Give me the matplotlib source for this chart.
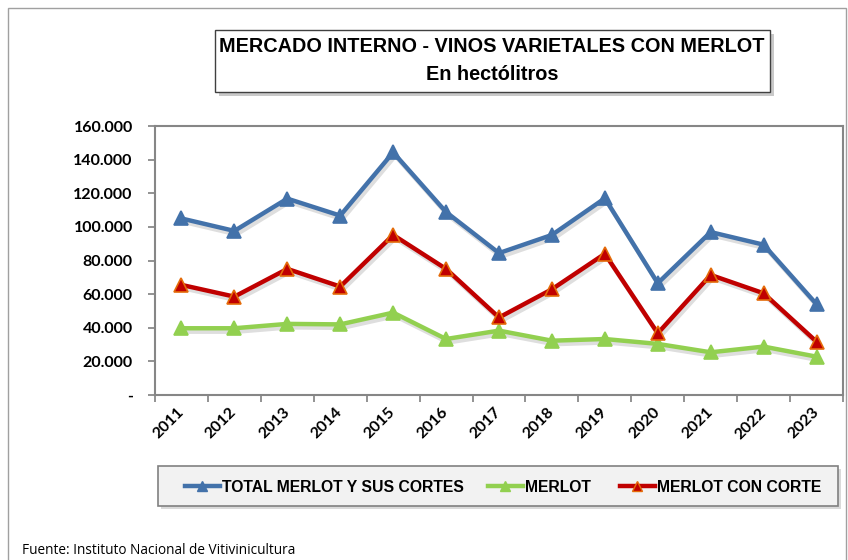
import numpy as np
import matplotlib
matplotlib.use('Agg')
import matplotlib.pyplot as plt
import matplotlib.patheffects as pe
from matplotlib.patches import Rectangle
from matplotlib.lines import Line2D

# datos (hectolitros)
years = ['2011', '2012', '2013', '2014', '2015', '2016', '2017',
         '2018', '2019', '2020', '2021', '2022', '2023']
total = [105000, 97600, 116800, 106700, 144300, 108800, 84400,
         95200, 117000, 66500, 96900, 89400, 54000]
merlot = [39700, 39700, 42300, 42000, 49000, 33300, 38300,
          32300, 33300, 30400, 25400, 28800, 22800]
con_corte = [65500, 58500, 75000, 64500, 95200, 75000, 46100,
             62900, 84000, 36700, 71400, 60500, 31700]
yticks = [0, 20000, 40000, 60000, 80000, 100000, 120000, 140000, 160000]

narrow = ['Liberation Sans Narrow', 'Liberation Sans', 'DejaVu Sans']
calib = ['Lato', 'DejaVu Sans']
plt.rcParams['font.family'] = narrow

BLUE = '#4372AA'
GREEN = '#92D050'
RED = '#C00000'

fig = plt.figure(figsize=(8.48, 5.6), dpi=100)

# marco exterior
fig.patches.append(Rectangle((8/848, -0.05), 838/848, 1 - 8/560 + 0.05,
                             transform=fig.transFigure, fill=False,
                             edgecolor='#a0a0a0', lw=1))

ax = fig.add_axes([155/848, 1 - 395/560, 688/848, 269/560])
x = np.arange(len(years))
shadow = [pe.SimpleLineShadow(offset=(1.5, -2.5), alpha=0.13, shadow_color='black'),
          pe.Normal()]

series = [(total, BLUE, BLUE, 'TOTAL MERLOT Y SUS CORTES'),
          (merlot, GREEN, GREEN, 'MERLOT'),
          (con_corte, RED, '#E46C0A', 'MERLOT CON CORTE')]
handles = []
for i, (vals, col, edge, name) in enumerate(series):
    z = 3 + i
    ax.plot(x, vals, color=col, lw=3.2, path_effects=shadow, zorder=z)
    ax.plot(x, vals, ls='none', marker='^', ms=10, mfc=col, mec=edge, mew=1.2, zorder=z)
    handles.append(Line2D([], [], color=col, lw=3.2, marker='^', ms=7.5,
                          mfc=col, mec=edge, mew=1))

ax.set_xlim(-0.5, len(years) - 0.5)
ax.set_ylim(0, 160000)
ax.set_yticks(yticks)
ax.set_yticklabels(['-' if v == 0 else f'{v:,}'.replace(',', '.') for v in yticks],
                   fontsize=11.5, fontweight='bold', family=calib)
ax.tick_params(axis='y', pad=11)
ax.set_xticks(np.arange(-0.5, len(years)), [''] * (len(years) + 1))
ax.set_xticks(x, years, minor=True)
ax.tick_params(axis='x', which='minor', length=0, pad=11)
ax.tick_params(axis='both', which='major', length=5, color='#808080', width=1.2)
for lbl in ax.get_xticklabels(minor=True):
    lbl.set_rotation(45)
    lbl.set_rotation_mode('anchor')
    lbl.set_ha('right')
    lbl.set_va('center')
    lbl.set_fontsize(11.5)
    lbl.set_fontweight('bold')
    lbl.set_family(calib)
for s in ax.spines.values():
    s.set_color('#868686')
    s.set_linewidth(1.5)

# caja del titulo
tb = Rectangle((215/848, 1 - 92/560), 555/848, 62/560, transform=fig.transFigure,
               facecolor='white', edgecolor='#404040', lw=1,
               path_effects=[pe.SimplePatchShadow(offset=(3, -3), alpha=0.3), pe.Normal()])
fig.patches.append(tb)
fig.text(492/848, 1 - 47/560, 'MERCADO INTERNO - VINOS VARIETALES CON MERLOT',
         ha='center', va='center', fontsize=14.3, fontweight='bold')
fig.text(492/848, 1 - 74/560, 'En hectólitros', ha='center', va='center',
         fontsize=14.3, fontweight='bold')

# caja de la leyenda
lb = Rectangle((158/848, 1 - 506/560), 680/848, 40/560, transform=fig.transFigure,
               facecolor='#F2F2F2', edgecolor='#808080', lw=1.2,
               path_effects=[pe.SimplePatchShadow(offset=(2, -2), alpha=0.2), pe.Normal()])
fig.patches.append(lb)
for h, (vals, col, edge, name), xs in zip(handles, series, [185, 488, 620]):
    fig.legend([h], [name], loc='center left', bbox_to_anchor=(xs/848, 1 - 487/560),
               frameon=False, borderpad=0, borderaxespad=0, handlelength=2.2,
               handletextpad=0.15,
               prop={'family': narrow, 'weight': 'bold', 'size': 11.3})

fig.text(22/848, 1 - 550/560, 'Fuente: Instituto Nacional de Vitivinicultura',
         ha='left', va='center', fontsize=9.8, family=['Open Sans', 'DejaVu Sans'])

fig.savefig('out.png', dpi=100)
